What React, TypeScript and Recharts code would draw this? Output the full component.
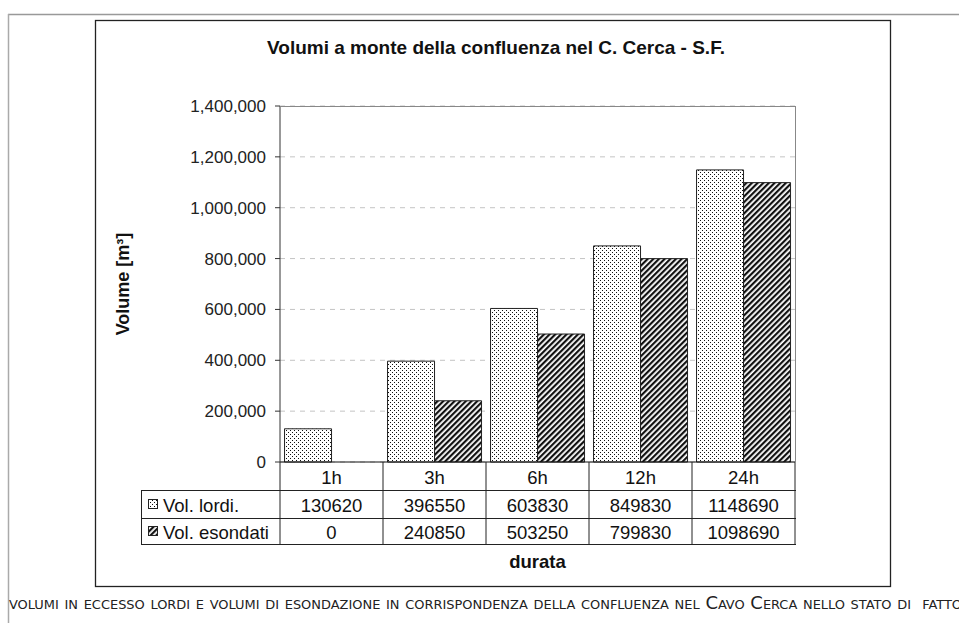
import { BarChart, Bar, XAxis, YAxis, CartesianGrid } from 'recharts';

const categories = ['1h', '3h', '6h', '12h', '24h'];
const volLordi = [130620, 396550, 603830, 849830, 1148690];
const volEsondati = [0, 240850, 503250, 799830, 1098690];
const seriesNames = ['Vol. lordi.', 'Vol. esondati'];
const yTicks = [0, 200000, 400000, 600000, 800000, 1000000, 1200000, 1400000];

const data = categories.map((c, i) => ({ durata: c, lordi: volLordi[i], esondati: volEsondati[i] }));

const W = 959;
const H = 623;
const PLOT_LEFT = 280;
const PLOT_RIGHT = 795;
const PLOT_TOP = 106;
const PLOT_BOTTOM = 462;
const ROW1 = 490;
const ROW2 = 518;
const ROW3 = 544;
const TABLE_LEFT = 141;
const YAXIS_W = 90;
const BAND = (PLOT_RIGHT - PLOT_LEFT) / categories.length;
const FONT = '"Liberation Sans", Arial, sans-serif';
const TABLE_FS = 18.5;

// custom x tick: draws the data table column under each category
function TableTick(props: any) {
  const { x, payload } = props;
  let i = props.index ?? payload?.index;
  if (i == null) i = categories.indexOf(payload.value);
  const right = x + BAND / 2;
  const txt = { textAnchor: 'middle' as const, dominantBaseline: 'central' as const, fontSize: TABLE_FS, fontFamily: FONT, fill: '#111' };
  return (
    <g>
      <text x={x} y={(PLOT_BOTTOM + ROW1) / 2 + 1} {...txt}>{payload.value}</text>
      <text x={x} y={(ROW1 + ROW2) / 2 + 1} {...txt}>{volLordi[i]}</text>
      <text x={x} y={(ROW2 + ROW3) / 2 + 1} {...txt}>{volEsondati[i]}</text>
      <line x1={right} x2={right} y1={PLOT_BOTTOM} y2={ROW3} stroke="#222" />
    </g>
  );
}

export default function App() {
  return (
    <div style={{ position: 'absolute', left: 0, top: 0, width: W, height: H, background: '#fff' }}>
      <svg width={0} height={0} style={{ position: 'absolute' }}>
        <defs>
          <pattern id="dots" width={4} height={4} patternUnits="userSpaceOnUse">
            <rect width={4} height={4} fill="#fff" />
            <rect x={0} y={0} width={1} height={1} fill="#111" />
            <rect x={2} y={2} width={1} height={1} fill="#111" />
          </pattern>
          <pattern id="hatch" width={4} height={4} patternUnits="userSpaceOnUse" patternTransform="rotate(45)">
            <rect width={4} height={4} fill="#fff" />
            <rect x={0} y={0} width={2.2} height={4} fill="#111" />
          </pattern>
        </defs>
      </svg>
      <div style={{ position: 'absolute', left: 0, top: 0 }}>
        <BarChart
          width={W}
          height={H}
          data={data}
          margin={{ top: PLOT_TOP, right: W - PLOT_RIGHT, left: PLOT_LEFT - YAXIS_W, bottom: H - ROW3 }}
          barCategoryGap="4.4%"
          barGap={0}
        >
          <CartesianGrid vertical={false} stroke="#c4c4c4" strokeDasharray="5 5" />
          <XAxis
            dataKey="durata"
            height={ROW3 - PLOT_BOTTOM}
            interval={0}
            tickLine={false}
            axisLine={{ stroke: '#111' }}
            tick={<TableTick />}
          />
          <YAxis
            width={YAXIS_W}
            domain={[0, 1400000]}
            ticks={yTicks}
            interval={0}
            tickSize={5}
            tickMargin={9}
            axisLine={{ stroke: '#333' }}
            tickLine={{ stroke: '#333' }}
            tick={{ fill: '#222', fontSize: 17, fontFamily: FONT }}
            tickFormatter={(v: number) => v.toLocaleString('en-US')}
          />
          <Bar dataKey="lordi" name={seriesNames[0]} fill="url(#dots)" stroke="#222" strokeWidth={1} isAnimationActive={false} />
          <Bar dataKey="esondati" name={seriesNames[1]} fill="url(#hatch)" stroke="#222" strokeWidth={1} isAnimationActive={false} />
        </BarChart>
      </div>
      <svg width={W} height={H} style={{ position: 'absolute', left: 0, top: 0, pointerEvents: 'none' }}>
        {/* page rules */}
        <line x1={8} y1={14.5} x2={W} y2={14.5} stroke="#999" strokeWidth={1.5} />
        <line x1={8.5} y1={14} x2={8.5} y2={H} stroke="#aaa" strokeWidth={1.5} />
        {/* chart frame */}
        <rect x={95.5} y={20.5} width={795} height={566} fill="none" stroke="#222" strokeWidth={1.3} />
        <text x={496} y={54} textAnchor="middle" fontFamily={FONT} fontSize={19} fontWeight="bold" fill="#111">
          Volumi a monte della confluenza nel C. Cerca - S.F.
        </text>
        <text
          x={0}
          y={0}
          transform={`translate(123, ${(PLOT_TOP + PLOT_BOTTOM) / 2}) rotate(-90)`}
          textAnchor="middle"
          dominantBaseline="central"
          fontFamily={FONT}
          fontSize={18}
          fontWeight="bold"
          fill="#111"
        >
          Volume [m³]
        </text>
        {/* plot border */}
        <line x1={PLOT_LEFT} y1={PLOT_TOP + 0.5} x2={PLOT_RIGHT} y2={PLOT_TOP + 0.5} stroke="#888" />
        <line x1={PLOT_RIGHT + 0.5} y1={PLOT_TOP} x2={PLOT_RIGHT + 0.5} y2={PLOT_BOTTOM} stroke="#888" />
        {/* data table grid */}
        <line x1={PLOT_LEFT} y1={PLOT_BOTTOM} x2={PLOT_LEFT} y2={ROW3} stroke="#222" />
        <line x1={TABLE_LEFT} y1={ROW1 + 0.5} x2={PLOT_RIGHT + 1} y2={ROW1 + 0.5} stroke="#222" />
        <line x1={TABLE_LEFT} y1={ROW2 + 0.5} x2={PLOT_RIGHT + 1} y2={ROW2 + 0.5} stroke="#222" />
        <line x1={TABLE_LEFT} y1={ROW3 + 0.5} x2={PLOT_RIGHT + 1} y2={ROW3 + 0.5} stroke="#222" />
        <line x1={TABLE_LEFT + 0.5} y1={ROW1} x2={TABLE_LEFT + 0.5} y2={ROW3} stroke="#222" />
        <rect x={148.5} y={(ROW1 + ROW2) / 2 - 4.5} width={9} height={9} fill="url(#dots)" stroke="#222" />
        <rect x={148.5} y={(ROW2 + ROW3) / 2 - 4.5} width={9} height={9} fill="url(#hatch)" stroke="#222" />
        <text x={163} y={(ROW1 + ROW2) / 2 + 1} dominantBaseline="central" fontFamily={FONT} fontSize={TABLE_FS} fill="#111">
          {seriesNames[0]}
        </text>
        <text x={163} y={(ROW2 + ROW3) / 2 + 1} dominantBaseline="central" fontFamily={FONT} fontSize={TABLE_FS} fill="#111">
          {seriesNames[1]}
        </text>
        <text x={(PLOT_LEFT + PLOT_RIGHT) / 2} y={568} textAnchor="middle" fontFamily={FONT} fontSize={18.5} fontWeight="bold" fill="#111">
          durata
        </text>
        <text
          x={9}
          y={609}
          textLength={953}
          lengthAdjust="spacingAndGlyphs"
          fontFamily='"DejaVu Sans Condensed", "DejaVu Sans", sans-serif'
          fontSize={18}
          fill="#222"
          style={{ fontVariant: 'small-caps', whiteSpace: 'pre' }}
        >
          volumi in eccesso lordi e volumi di esondazione in corrispondenza della confluenza nel Cavo Cerca nello stato di  fatto
        </text>
      </svg>
    </div>
  );
}
